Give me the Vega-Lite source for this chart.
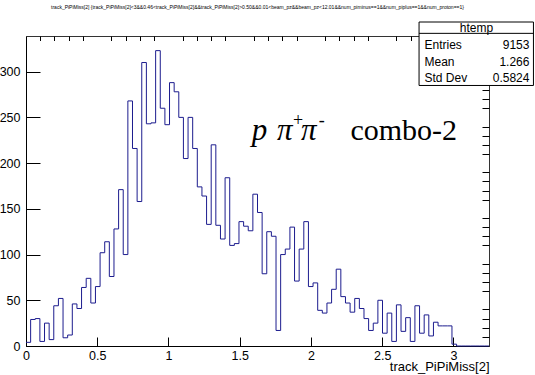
{
  "$schema": "https://vega.github.io/schema/vega-lite/v6.json",
  "width": 463,
  "height": 310,
  "autosize": {"type": "none"},
  "padding": {"left": 26, "top": 36, "right": 46, "bottom": 29},
  "background": "white",
  "title": {
    "text": "track_PiPiMiss[2] {track_PiPiMiss[2]<3&&0.46<track_PiPiMiss[2]&&track_PiPiMiss[2]>0.50&&0.01<beam_pz&&beam_pz<12.01&&num_piminus==1&&num_piplus==1&&num_proton==1}",
    "fontSize": 5,
    "font": "Liberation Sans",
    "fontWeight": "normal",
    "color": "#000",
    "anchor": "middle",
    "baseline": "bottom",
    "offset": 7
  },
  "config": {
    "view": {"stroke": "#333", "strokeWidth": 1},
    "axis": {
      "grid": false,
      "domainColor": "#000",
      "tickColor": "#000",
      "labelColor": "#000",
      "labelFont": "Liberation Sans",
      "labelFontSize": 12.5,
      "titleFont": "Liberation Sans",
      "titleFontWeight": "normal",
      "titleColor": "#000"
    }
  },
  "datasets": {
    "hist": [
      {"lo": 0, "n": 4}, {"lo": 0.0325, "n": 29}, {"lo": 0.065, "n": 30}, {"lo": 0.0975, "n": 5}, {"lo": 0.13, "n": 25},
      {"lo": 0.1625, "n": 7}, {"lo": 0.195, "n": 44}, {"lo": 0.2275, "n": 52}, {"lo": 0.26, "n": 9}, {"lo": 0.2925, "n": 12},
      {"lo": 0.325, "n": 46}, {"lo": 0.3575, "n": 41}, {"lo": 0.39, "n": 64}, {"lo": 0.4225, "n": 74}, {"lo": 0.455, "n": 47},
      {"lo": 0.4875, "n": 65}, {"lo": 0.52, "n": 102}, {"lo": 0.5525, "n": 114}, {"lo": 0.585, "n": 76}, {"lo": 0.6175, "n": 128},
      {"lo": 0.65, "n": 171}, {"lo": 0.6825, "n": 100}, {"lo": 0.715, "n": 268}, {"lo": 0.7475, "n": 216}, {"lo": 0.78, "n": 158},
      {"lo": 0.8125, "n": 310}, {"lo": 0.845, "n": 243}, {"lo": 0.8775, "n": 244}, {"lo": 0.91, "n": 323}, {"lo": 0.9425, "n": 260},
      {"lo": 0.975, "n": 242}, {"lo": 1.0075, "n": 288}, {"lo": 1.04, "n": 278}, {"lo": 1.0725, "n": 250}, {"lo": 1.105, "n": 205},
      {"lo": 1.1375, "n": 250}, {"lo": 1.17, "n": 216}, {"lo": 1.2025, "n": 174}, {"lo": 1.235, "n": 164}, {"lo": 1.2675, "n": 133},
      {"lo": 1.3, "n": 220}, {"lo": 1.3325, "n": 132}, {"lo": 1.365, "n": 117}, {"lo": 1.3975, "n": 184}, {"lo": 1.43, "n": 110},
      {"lo": 1.4625, "n": 112}, {"lo": 1.495, "n": 136}, {"lo": 1.5275, "n": 131}, {"lo": 1.56, "n": 126}, {"lo": 1.5925, "n": 166},
      {"lo": 1.625, "n": 146}, {"lo": 1.6575, "n": 79}, {"lo": 1.69, "n": 125}, {"lo": 1.7225, "n": 120}, {"lo": 1.755, "n": 17},
      {"lo": 1.7875, "n": 100}, {"lo": 1.82, "n": 106}, {"lo": 1.8525, "n": 130}, {"lo": 1.885, "n": 71}, {"lo": 1.9175, "n": 106},
      {"lo": 1.95, "n": 136}, {"lo": 1.9825, "n": 65}, {"lo": 2.015, "n": 69}, {"lo": 2.0475, "n": 39}, {"lo": 2.08, "n": 36},
      {"lo": 2.1125, "n": 47}, {"lo": 2.145, "n": 62}, {"lo": 2.1775, "n": 84}, {"lo": 2.21, "n": 54}, {"lo": 2.2425, "n": 47},
      {"lo": 2.275, "n": 37}, {"lo": 2.3075, "n": 52}, {"lo": 2.34, "n": 41}, {"lo": 2.3725, "n": 30}, {"lo": 2.405, "n": 17},
      {"lo": 2.4375, "n": 25}, {"lo": 2.47, "n": 50}, {"lo": 2.5025, "n": 14}, {"lo": 2.535, "n": 36}, {"lo": 2.5675, "n": 5},
      {"lo": 2.6, "n": 45}, {"lo": 2.6325, "n": 16}, {"lo": 2.665, "n": 31}, {"lo": 2.6975, "n": 5}, {"lo": 2.73, "n": 44},
      {"lo": 2.7625, "n": 14}, {"lo": 2.795, "n": 34}, {"lo": 2.8275, "n": 11}, {"lo": 2.86, "n": 26}, {"lo": 2.8925, "n": 22},
      {"lo": 2.925, "n": 22}, {"lo": 2.9575, "n": 22}, {"lo": 2.99, "n": 2}, {"lo": 3.0225, "n": 0}, {"lo": 3.055, "n": 0},
      {"lo": 3.0875, "n": 0}, {"lo": 3.12, "n": 0}, {"lo": 3.1525, "n": 0}, {"lo": 3.185, "n": 0}, {"lo": 3.2175, "n": 0},
      {"lo": 3.25, "n": 0}
    ]
  },
  "resolve": {"axis": {"x": "independent", "y": "independent"}},
  "layer": [
    {
      "data": {"name": "hist"},
      "mark": {"type": "line", "interpolate": "step-after", "color": "#1c1c8e", "strokeWidth": 1},
      "encoding": {
        "x": {
          "field": "lo", "type": "quantitative",
          "scale": {"domain": [0, 3.25], "nice": false, "zero": false},
          "axis": {
            "values": [0, 0.5, 1, 1.5, 2, 2.5, 3],
            "format": "~g",
            "tickSize": -9,
            "labelPadding": 12,
            "labelFlush": false,
            "labelOverlap": false,
            "title": "track_PiPiMiss[2]",
            "titleFontSize": 13,
            "titleX": 463,
            "titleY": 24,
            "titleAlign": "right",
            "titleAnchor": "end",
            "titleBaseline": "alphabetic"
          }
        },
        "y": {
          "field": "n", "type": "quantitative",
          "scale": {"domain": [0, 339], "nice": false, "zero": false},
          "axis": {
            "values": [0, 50, 100, 150, 200, 250, 300],
            "format": "d",
            "tickSize": -14,
            "labelPadding": 20,
            "labelFlush": false,
            "labelOverlap": false,
            "title": null
          }
        }
      }
    },
    {
      "data": {"name": "hist"},
      "mark": {"type": "line", "opacity": 0},
      "encoding": {
        "x": {
          "field": "lo", "type": "quantitative",
          "axis": {
            "values": [0.1, 0.2, 0.3, 0.4, 0.6, 0.7, 0.8, 0.9, 1.1, 1.2, 1.3, 1.4, 1.6, 1.7, 1.8, 1.9, 2.1, 2.2, 2.3, 2.4, 2.6, 2.7, 2.8, 2.9, 3.1, 3.2],
            "tickSize": -4.5, "labels": false, "domain": false, "title": null
          }
        },
        "y": {
          "field": "n", "type": "quantitative",
          "axis": {
            "values": [10, 20, 30, 40, 60, 70, 80, 90, 110, 120, 130, 140, 160, 170, 180, 190, 210, 220, 230, 240, 260, 270, 280, 290, 310, 320, 330],
            "tickSize": -7, "labels": false, "domain": false, "title": null
          }
        }
      }
    },
    {
      "data": {"values": [{}]},
      "mark": {"type": "rect", "fill": "white", "stroke": "#000", "strokeWidth": 1, "clip": false},
      "encoding": {
        "x": {"datum": 2.759, "type": "quantitative", "axis": null},
        "x2": {"datum": 3.562},
        "y": {"datum": 354.3, "type": "quantitative", "axis": null},
        "y2": {"datum": 284.9}
      }
    },
    {
      "data": {"values": [{}]},
      "mark": {"type": "rule", "color": "#000", "strokeWidth": 1, "clip": false},
      "encoding": {
        "x": {"datum": 2.759, "type": "quantitative", "axis": null},
        "x2": {"datum": 3.562},
        "y": {"datum": 341.9, "type": "quantitative", "axis": null}
      }
    },
    {
      "data": {"values": [{"t": "htemp"}]},
      "mark": {"type": "text", "font": "Liberation Sans", "fontSize": 12, "align": "center", "baseline": "middle", "color": "#000", "clip": false},
      "encoding": {
        "x": {"datum": 3.162, "type": "quantitative", "axis": null},
        "y": {"datum": 347.7, "type": "quantitative", "axis": null},
        "text": {"field": "t"}
      }
    },
    {
      "data": {"values": [{"k": "Entries", "v": "9153", "row": 329.2}, {"k": "Mean", "v": "1.266", "row": 311.1}, {"k": "Std Dev", "v": "0.5824", "row": 293.6}]},
      "layer": [
        {
          "mark": {"type": "text", "font": "Liberation Sans", "fontSize": 12, "align": "left", "baseline": "middle", "color": "#000", "clip": false},
          "encoding": {
            "x": {"datum": 2.797, "type": "quantitative", "axis": null},
            "y": {"field": "row", "type": "quantitative", "axis": null},
            "text": {"field": "k"}
          }
        },
        {
          "mark": {"type": "text", "font": "Liberation Sans", "fontSize": 12, "align": "right", "baseline": "middle", "color": "#000", "clip": false},
          "encoding": {
            "x": {"datum": 3.534, "type": "quantitative", "axis": null},
            "y": {"field": "row", "type": "quantitative", "axis": null},
            "text": {"field": "v"}
          }
        }
      ]
    },
    {
      "data": {"values": [{"t": "p"}]},
      "mark": {"type": "text", "font": "Liberation Serif", "fontStyle": "italic", "fontSize": 31, "align": "left", "baseline": "alphabetic", "color": "#000", "clip": false},
      "encoding": {
        "x": {"datum": 1.585, "type": "quantitative", "axis": null},
        "y": {"datum": 225.3, "type": "quantitative", "axis": null},
        "text": {"field": "t"}
      }
    },
    {
      "data": {"values": [{"t": "π", "pos": 1.762}, {"t": "π", "pos": 1.93}]},
      "mark": {"type": "text", "font": "Liberation Serif", "fontStyle": "italic", "fontSize": 31, "align": "left", "baseline": "alphabetic", "color": "#000", "clip": false},
      "encoding": {
        "x": {"field": "pos", "type": "quantitative", "axis": null},
        "y": {"datum": 225.3, "type": "quantitative", "axis": null},
        "text": {"field": "t"}
      }
    },
    {
      "data": {"values": [{"t": "+", "pos": 1.875}, {"t": "-", "pos": 2.055}]},
      "mark": {"type": "text", "font": "Liberation Serif", "fontSize": 18, "align": "left", "baseline": "alphabetic", "color": "#000", "clip": false},
      "encoding": {
        "x": {"field": "pos", "type": "quantitative", "axis": null},
        "y": {"datum": 240.6, "type": "quantitative", "axis": null},
        "text": {"field": "t"}
      }
    },
    {
      "data": {"values": [{"t": "combo-2"}]},
      "mark": {"type": "text", "font": "Liberation Serif", "fontSize": 30, "align": "left", "baseline": "alphabetic", "color": "#000", "clip": false},
      "encoding": {
        "x": {"datum": 2.277, "type": "quantitative", "axis": null},
        "y": {"datum": 225.3, "type": "quantitative", "axis": null},
        "text": {"field": "t"}
      }
    }
  ]
}
